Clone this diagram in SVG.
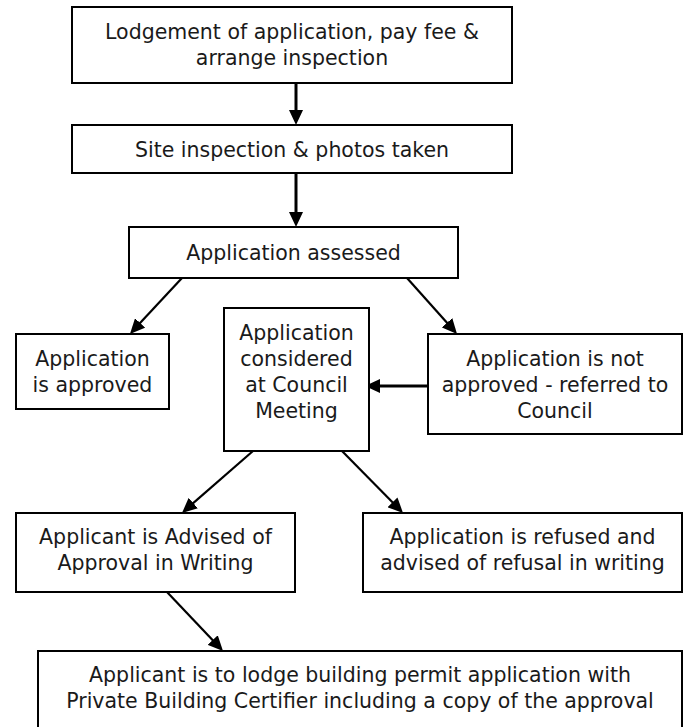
<svg xmlns="http://www.w3.org/2000/svg" width="688" height="727" viewBox="0 0 688 727">
<style>
.box{fill:#fff;stroke:#000;stroke-width:2}
.t{font-family:"DejaVu Sans","Liberation Sans",sans-serif;font-size:20.5px;fill:#1a1a1a;text-anchor:middle}
.c{stroke:#000;fill:none}
.thick{stroke-width:3}
.thin{stroke-width:2.2}
</style>
<defs>
<marker id="ah" markerUnits="userSpaceOnUse" viewBox="0 0 15 14" markerWidth="15" markerHeight="14" refX="7" refY="7" orient="auto">
<path d="M0,0 L15,7 L0,14 z" fill="#000"/>
</marker>
</defs>
<rect width="688" height="727" fill="#fff"/>
<g id="connectors">
<line class="c thick" x1="296" y1="83" x2="296" y2="117" marker-end="url(#ah)"/>
<line class="c thick" x1="296" y1="173" x2="296" y2="219" marker-end="url(#ah)"/>
<line class="c thin" x1="182" y1="278" x2="135.4" y2="328.1" marker-end="url(#ah)"/>
<line class="c thin" x1="407" y1="278" x2="451.7" y2="328" marker-end="url(#ah)"/>
<line class="c thick" x1="429" y1="386" x2="373" y2="386" marker-end="url(#ah)"/>
<line class="c thin" x1="253" y1="451" x2="188" y2="507.7" marker-end="url(#ah)"/>
<line class="c thin" x1="342" y1="451" x2="397.4" y2="507.3" marker-end="url(#ah)"/>
<line class="c thin" x1="167" y1="592" x2="217.5" y2="645.2" marker-end="url(#ah)"/>
</g>
<g id="lodgement">
<rect class="box" x="72" y="7" width="440" height="76"/>
<text class="t" x="292" y="39">Lodgement of application, pay fee &amp;</text>
<text class="t" x="292" y="65">arrange inspection</text>
</g>
<g id="site-inspection">
<rect class="box" x="72" y="125" width="440" height="48"/>
<text class="t" x="292" y="157">Site inspection &amp; photos taken</text>
</g>
<g id="assessed">
<rect class="box" x="129" y="227" width="329" height="51"/>
<text class="t" x="293.5" y="260">Application assessed</text>
</g>
<g id="approved">
<rect class="box" x="16" y="334" width="153" height="75"/>
<text class="t" x="92.5" y="366">Application</text>
<text class="t" x="92.5" y="392">is approved</text>
</g>
<g id="council-meeting">
<rect class="box" x="224" y="308" width="145" height="143"/>
<text class="t" x="296.5" y="340">Application</text>
<text class="t" x="296.5" y="366">considered</text>
<text class="t" x="296.5" y="392">at Council</text>
<text class="t" x="296.5" y="418">Meeting</text>
</g>
<g id="not-approved">
<rect class="box" x="428" y="334" width="254" height="100"/>
<text class="t" x="555" y="366">Application is not</text>
<text class="t" x="555" y="392">approved - referred to</text>
<text class="t" x="555" y="418">Council</text>
</g>
<g id="advised-approval">
<rect class="box" x="16" y="513" width="279" height="79"/>
<text class="t" x="155.5" y="544">Applicant is Advised of</text>
<text class="t" x="155.5" y="570">Approval in Writing</text>
</g>
<g id="refused">
<rect class="box" x="363" y="513" width="319" height="79"/>
<text class="t" x="522.5" y="544">Application is refused and</text>
<text class="t" x="522.5" y="570">advised of refusal in writing</text>
</g>
<g id="building-permit">
<rect class="box" x="38" y="651" width="644" height="90"/>
<text class="t" x="360" y="682">Applicant is to lodge building permit application with</text>
<text class="t" x="360" y="708">Private Building Certifier including a copy of the approval</text>
</g>
</svg>
